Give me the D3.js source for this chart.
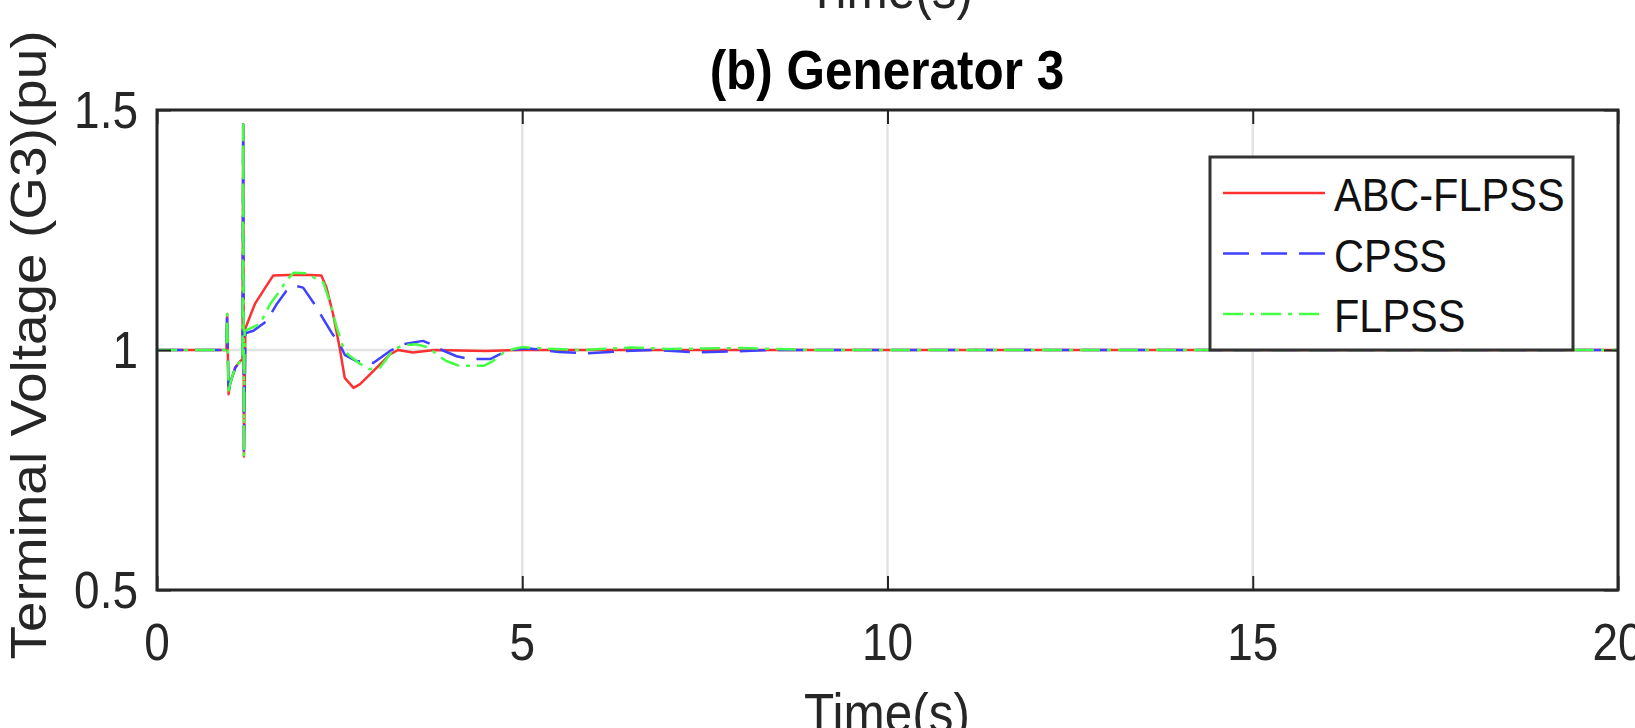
<!DOCTYPE html>
<html>
<head>
<meta charset="utf-8">
<script src="https://cdn.jsdelivr.net/npm/d3@7"></script>
<style>
  body { margin: 0; background: #fff; }
  svg { display: block; font-family: "Liberation Sans", Arial, sans-serif; }
</style>
</head>
<body>
<div id="chart"></div>
<script>
// tick values
const xTicks = [0, 5, 10, 15, 20]
const yTicks = [0.5, 1, 1.5]
const yTickLabels = ["0.5", "1", "1.5"]

// legend names
const seriesNames = ["ABC-FLPSS", "CPSS", "FLPSS"]

// ABC-FLPSS (red)
const timeABC = [0, 0.95, 0.96, 0.98, 1.0, 1.07, 1.14, 1.17, 1.18, 1.19, 1.21, 1.25, 1.34, 1.5, 1.59, 1.8, 2.0, 2.25, 2.32, 2.41, 2.5, 2.57, 2.69, 2.78, 2.96, 3.19, 3.3, 3.5, 3.8, 4.5, 5, 20]
const voltABC = [1.0, 1.0, 1.075, 0.908, 0.93, 0.963, 0.977, 0.98, 1.47, 0.778, 1.045, 1.061, 1.096, 1.134, 1.155, 1.156, 1.157, 1.155, 1.13, 1.075, 1.005, 0.942, 0.921, 0.929, 0.956, 0.991, 1.0, 0.995, 1.0, 0.998, 1.0, 1.0]

// CPSS (blue)
const timeCPSS = [0, 0.95, 0.96, 0.98, 1.0, 1.07, 1.14, 1.17, 1.18, 1.19, 1.21, 1.32, 1.5, 1.64, 1.77, 1.89, 2.0, 2.14, 2.28, 2.39, 2.5, 2.57, 2.73, 2.96, 3.19, 3.37, 3.64, 3.75, 3.87, 4.1, 4.28, 4.56, 4.69, 4.8, 5.1, 5.5, 5.9, 6.3, 6.8, 7.4, 7.9, 8.4, 20]
const voltCPSS = [1.0, 1.0, 1.075, 0.908, 0.93, 0.963, 0.977, 0.98, 1.47, 0.778, 1.035, 1.04, 1.06, 1.096, 1.123, 1.134, 1.13, 1.099, 1.064, 1.036, 1.012, 0.99, 0.977, 0.973, 0.998, 1.012, 1.019, 1.012, 1.002, 0.987, 0.981, 0.981, 0.991, 1.0, 1.003, 0.996, 0.993, 0.997, 1.0, 0.995, 0.997, 1.0, 1.0]

// FLPSS (green)
const timeFLPSS = [0, 0.95, 0.96, 0.98, 1.0, 1.07, 1.14, 1.17, 1.18, 1.19, 1.2, 1.41, 1.55, 1.68, 1.77, 1.87, 2.05, 2.18, 2.28, 2.39, 2.46, 2.55, 2.62, 2.78, 2.91, 3.05, 3.14, 3.23, 3.37, 3.55, 3.73, 3.82, 3.96, 4.14, 4.33, 4.47, 4.6, 4.74, 4.88, 5.0, 5.3, 5.8, 6.5, 7.0, 8.0, 9.0, 20]
const voltFLPSS = [1.0, 1.0, 1.075, 0.908, 0.93, 0.963, 0.977, 0.98, 1.47, 0.778, 1.04, 1.054, 1.096, 1.123, 1.144, 1.161, 1.16, 1.148, 1.14, 1.088, 1.047, 1.005, 0.99, 0.971, 0.96, 0.963, 0.981, 1.0, 1.01, 1.012, 1.005, 0.991, 0.977, 0.967, 0.967, 0.967, 0.977, 0.994, 1.002, 1.006, 1.003, 1.0, 1.005, 1.002, 1.004, 1.0, 1.0]

const W = 1635, H = 728
const plot = {left: 157, right: 1618, top: 110, bottom: 590}
const stretch = 1.11   // text in the picture is a bit taller than wide
const axisColor = "#262626"

const svg = d3.select("#chart").append("svg")
    .attr("width", W)
    .attr("height", H)

var x = d3.scaleLinear().domain([0, 20]).range([plot.left, plot.right])
var y = d3.scaleLinear().domain([0.5, 1.5]).range([plot.bottom, plot.top])

// grid
svg.append("g").selectAll("line.gx")
    .data(xTicks).enter().append("line")
    .attr("x1", d => x(d)).attr("x2", d => x(d))
    .attr("y1", plot.top).attr("y2", plot.bottom)
    .attr("stroke", "#e3e3e3").attr("stroke-width", 2.5)
svg.append("g").selectAll("line.gy")
    .data(yTicks).enter().append("line")
    .attr("x1", plot.left).attr("x2", plot.right)
    .attr("y1", d => y(d)).attr("y2", d => y(d))
    .attr("stroke", "#e3e3e3").attr("stroke-width", 2.5)

// data lines
svg.append("clipPath").attr("id", "clip")
    .append("rect")
    .attr("x", plot.left).attr("y", plot.top)
    .attr("width", plot.right - plot.left).attr("height", plot.bottom - plot.top)

const series = [
    {name: seriesNames[0], t: timeABC, v: voltABC, color: "#ff3030", dash: null},
    {name: seriesNames[1], t: timeCPSS, v: voltCPSS, color: "#4040ff", dash: "26,12"},
    {name: seriesNames[2], t: timeFLPSS, v: voltFLPSS, color: "#44ff44", dash: "20,7,4,7"}
]

var line = d3.line()
    .x(d => x(d[0]))
    .y(d => y(d[1]))

svg.append("g").attr("clip-path", "url(#clip)")
    .selectAll("path")
    .data(series)
    .enter()
    .append("path")
    .attr("d", s => line(s.t.map((t, i) => [t, s.v[i]])))
    .attr("fill", "none")
    .attr("stroke", s => s.color)
    .attr("stroke-width", 2.5)
    .attr("stroke-dasharray", s => s.dash)
    .attr("stroke-linejoin", "round")

// ticks on all four sides, pointing in
function styleAxis(g) {
    g.select(".domain").remove()
    g.selectAll(".tick line").attr("stroke", axisColor).attr("stroke-width", 2)
    g.selectAll(".tick text").remove()
}
svg.append("g").attr("transform", "translate(0," + plot.bottom + ")")
    .call(d3.axisBottom(x).tickValues(xTicks).tickSize(-14)).call(styleAxis)
svg.append("g").attr("transform", "translate(0," + plot.top + ")")
    .call(d3.axisTop(x).tickValues(xTicks).tickSize(-14)).call(styleAxis)
svg.append("g").attr("transform", "translate(" + plot.left + ",0)")
    .call(d3.axisLeft(y).tickValues(yTicks).tickSize(-14)).call(styleAxis)
svg.append("g").attr("transform", "translate(" + plot.right + ",0)")
    .call(d3.axisRight(y).tickValues(yTicks).tickSize(-14)).call(styleAxis)

// box
svg.append("rect")
    .attr("x", plot.left).attr("y", plot.top)
    .attr("width", plot.right - plot.left).attr("height", plot.bottom - plot.top)
    .attr("fill", "none").attr("stroke", axisColor).attr("stroke-width", 3)

// tick labels
svg.append("g").selectAll("text")
    .data(xTicks).enter().append("text")
    .attr("transform", d => "translate(" + x(d) + ",660) scale(1," + stretch + ")")
    .attr("text-anchor", "middle")
    .attr("font-size", 46)
    .attr("fill", axisColor)
    .text(d => d)
svg.append("g").selectAll("text")
    .data(yTicks).enter().append("text")
    .attr("transform", d => "translate(138," + (y(d) + 18) + ") scale(1," + stretch + ")")
    .attr("text-anchor", "end")
    .attr("font-size", 46)
    .attr("fill", axisColor)
    .text((d, i) => yTickLabels[i])

// axis labels and title
svg.append("text")
    .attr("transform", "translate(890,8) scale(1," + stretch + ")")
    .attr("text-anchor", "middle").attr("font-size", 49.5).attr("fill", axisColor)
    .text("Time(s)")
svg.append("text")
    .attr("transform", "translate(887,732) scale(1," + stretch + ")")
    .attr("text-anchor", "middle").attr("font-size", 49.5).attr("fill", axisColor)
    .text("Time(s)")
svg.append("text")
    .attr("transform", "translate(46,345) rotate(-90) scale(" + stretch + ",1)")
    .attr("text-anchor", "middle").attr("font-size", 49.5).attr("fill", axisColor)
    .text("Terminal Voltage (G3)(pu)")
svg.append("text")
    .attr("transform", "translate(887,89) scale(1," + stretch + ")")
    .attr("text-anchor", "middle").attr("font-size", 49.5).attr("font-weight", "bold").attr("fill", "#000")
    .text("(b) Generator 3")

// legend
const legend = {x: 1210, y: 157, w: 363, h: 193}
var lg = svg.append("g")
lg.append("rect")
    .attr("x", legend.x).attr("y", legend.y)
    .attr("width", legend.w).attr("height", legend.h)
    .attr("fill", "#fff").attr("stroke", "#333").attr("stroke-width", 3)
var rows = lg.selectAll("g.row")
    .data(series).enter().append("g")
    .attr("transform", (d, i) => "translate(0," + (193 + i * 60.5) + ")")
rows.append("line")
    .attr("x1", 1223).attr("x2", 1325)
    .attr("stroke", d => d.color)
    .attr("stroke-width", 2.5)
    .attr("stroke-dasharray", d => d.dash)
rows.append("text")
    .attr("transform", "translate(1334,18) scale(1," + stretch + ")")
    .attr("font-size", 41.5)
    .attr("fill", "#111")
    .text(d => d.name)
</script>
</body>
</html>
